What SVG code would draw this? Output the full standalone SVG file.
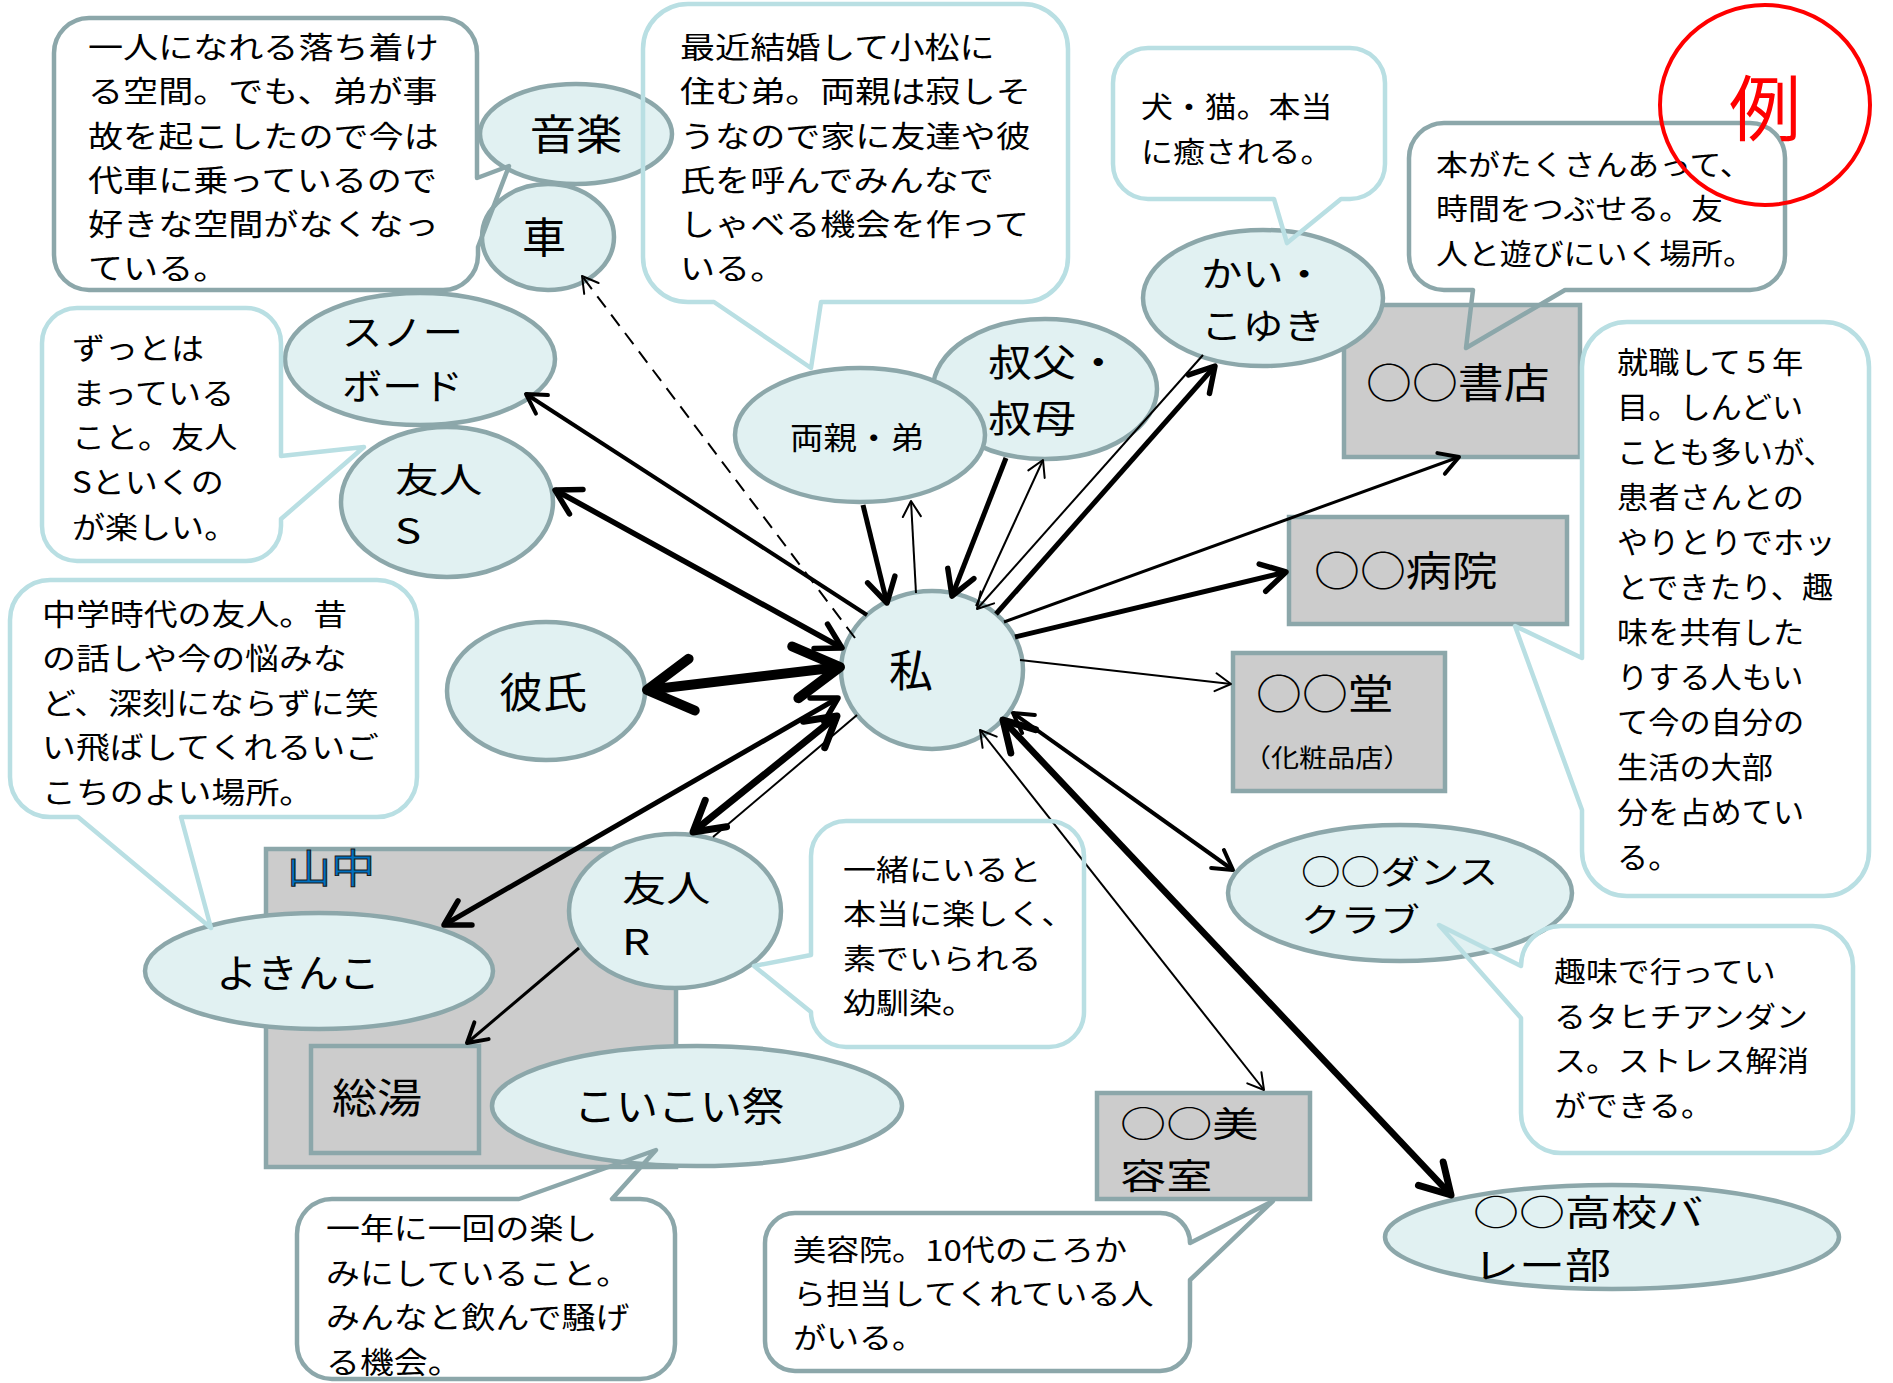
<svg xmlns="http://www.w3.org/2000/svg" width="1893" height="1383" viewBox="0 0 1893 1383">
<style>
.t{font-family:"Noto Sans CJK JP","Noto Sans",sans-serif;fill:#000}
.n{fill:#E1F1F2;stroke:#8CA7AA;stroke-width:4.5}
.r{fill:#CCCCCC;stroke:#8CA7AA;stroke-width:4.5}
.cb{fill:none;stroke:#B9DFE3;stroke-width:4.5;stroke-linejoin:round}
.cg{fill:none;stroke:#8CA7AA;stroke-width:4.5;stroke-linejoin:round}
.c{fill:none;stroke:#000}
.ah{fill:none;stroke:#000;stroke-linecap:round;stroke-linejoin:round}
</style>
<defs>
<marker id="T" viewBox="-25 -15 30 30" markerWidth="30" markerHeight="30" refX="0" refY="0" markerUnits="userSpaceOnUse" orient="auto-start-reverse" style="overflow:visible"><path class="ah" stroke-width="2" d="M-15.6,-9 L0,0 L-15.6,9"/></marker>
<marker id="M" viewBox="-30 -20 40 40" markerWidth="40" markerHeight="40" refX="0" refY="0" markerUnits="userSpaceOnUse" orient="auto-start-reverse" style="overflow:visible"><path class="ah" stroke-width="4" d="M-19,-11 L0,0 L-19,11"/></marker>
<marker id="K" viewBox="-35 -22 45 44" markerWidth="45" markerHeight="44" refX="0" refY="0" markerUnits="userSpaceOnUse" orient="auto-start-reverse" style="overflow:visible"><path class="ah" stroke-width="5.5" d="M-24.2,-14 L0,0 L-24.2,14"/></marker>
<marker id="KK" viewBox="-40 -26 50 52" markerWidth="50" markerHeight="52" refX="0" refY="0" markerUnits="userSpaceOnUse" orient="auto-start-reverse" style="overflow:visible"><path class="ah" stroke-width="7" d="M-29.4,-17 L0,0 L-29.4,17"/></marker>
<marker id="X" viewBox="-60 -36 70 72" markerWidth="70" markerHeight="72" refX="0" refY="0" markerUnits="userSpaceOnUse" orient="auto-start-reverse" style="overflow:visible"><path class="ah" stroke-width="10" d="M-45,-26 L0,0 L-45,26"/></marker>
</defs>
<rect width="1893" height="1383" fill="#fff"/>

<g id="area-yamanaka">
<rect class="r" x="266" y="849" width="410" height="318"/>
<text transform="translate(287,883) scale(1.1,1)" font-size="40" fill="#0070C0" stroke="#1a1a1a" stroke-width="1" style="font-family:'Noto Sans CJK JP',sans-serif">山中</text>
</g>

<g id="node-ongaku"><ellipse class="n" cx="576" cy="134" rx="96" ry="50"/><text class="t" transform="translate(576,150) scale(1.1,1)" font-size="42" text-anchor="middle">音楽</text></g>
<g id="node-kuruma"><ellipse class="n" cx="548" cy="237" rx="66" ry="53"/><text class="t" transform="translate(544,253) scale(1.05,1)" font-size="42" text-anchor="middle">車</text></g>
<g id="node-snowboard"><ellipse class="n" cx="420" cy="359" rx="135" ry="66"/><text class="t" transform="translate(342,346) scale(1.12,1)" font-size="36"><tspan x="0" y="0">スノー</tspan><tspan x="0" y="54">ボード</tspan></text></g>
<g id="node-yujin-s"><ellipse class="n" cx="447" cy="502" rx="106" ry="75"/><text class="t" transform="translate(395,493) scale(1.25,1)" font-size="35"><tspan x="0" y="0">友人</tspan><tspan x="0" y="51">S</tspan></text></g>
<g id="node-kareshi"><ellipse class="n" cx="546" cy="691" rx="99" ry="69"/><text class="t" transform="translate(543,708) scale(1.05,1)" font-size="42" text-anchor="middle">彼氏</text></g>
<g id="node-watashi"><ellipse class="n" cx="932" cy="670" rx="91" ry="79"/><text class="t" x="911" y="687" font-size="44" text-anchor="middle">私</text></g>
<g id="node-oji"><ellipse class="n" cx="1045" cy="389" rx="112" ry="70"/><text class="t" transform="translate(988,376) scale(1.16,1)" font-size="38"><tspan x="0" y="0">叔父・</tspan><tspan x="0" y="56">叔母</tspan></text></g>
<g id="node-ryoshin"><ellipse class="n" cx="860" cy="435" rx="125" ry="67"/><text class="t" transform="translate(857,449) scale(1.08,1)" font-size="31" text-anchor="middle">両親・弟</text></g>
<g id="node-shoten"><rect class="r" x="1344" y="305" width="236" height="152"/><text class="t" transform="translate(1366,398) scale(1.12,1)" font-size="41">○○書店</text></g>
<g id="node-kai"><ellipse class="n" cx="1263" cy="298" rx="120" ry="68"/><text class="t" transform="translate(1201,287) scale(1.18,1)" font-size="35"><tspan x="0" y="0">かい・</tspan><tspan x="0" y="52">こゆき</tspan></text></g>
<g id="node-byoin"><rect class="r" x="1289" y="517" width="278" height="107"/><text class="t" transform="translate(1314,586) scale(1.12,1)" font-size="41">○○病院</text></g>
<g id="node-do"><rect class="r" x="1233" y="653" width="212" height="138"/><text class="t" transform="translate(1256,709) scale(1.12,1)" font-size="41">○○堂</text><text class="t" transform="translate(1243,767) scale(1.1,1)" font-size="25.5">（化粧品店）</text></g>
<g id="node-dance"><ellipse class="n" cx="1400" cy="893" rx="172" ry="68"/><text class="t" transform="translate(1301,884) scale(1.2,1)" font-size="33"><tspan x="0" y="0">○○ダンス</tspan><tspan x="0" y="48">クラブ</tspan></text></g>
<g id="node-biyoshitsu"><rect class="r" x="1097" y="1093" width="213" height="106"/><text class="t" transform="translate(1120,1137) scale(1.3,1)" font-size="35.5"><tspan x="0" y="0">○○美</tspan><tspan x="0" y="52">容室</tspan></text></g>
<g id="node-volley"><ellipse class="n" cx="1612" cy="1237" rx="227" ry="52"/><text class="t" transform="translate(1473,1226) scale(1.28,1)" font-size="36"><tspan x="0" y="0">○○高校バ</tspan><tspan x="0" y="53">レー部</tspan></text></g>
<g id="node-yokinko"><ellipse class="n" cx="319" cy="971" rx="174" ry="58"/><text class="t" transform="translate(298,987) scale(1.05,1)" font-size="39" text-anchor="middle">よきんこ</text></g>
<g id="node-soyu"><rect class="r" x="311" y="1046" width="168" height="107"/><text class="t" transform="translate(332,1113) scale(1.1,1)" font-size="41">総湯</text></g>
<g id="node-koikoi"><ellipse class="n" cx="697" cy="1106" rx="205" ry="60"/><text class="t" transform="translate(679,1121) scale(1.05,1)" font-size="40" text-anchor="middle">こいこい祭</text></g>
<g id="node-yujin-r"><ellipse class="n" cx="675" cy="911" rx="106" ry="77"/><text class="t" transform="translate(622,902) scale(1.23,1)" font-size="36"><tspan x="0" y="0">友人</tspan><tspan x="0" y="53">R</tspan></text></g>

<g id="connectors">
<line class="c" x1="855" y1="638" x2="582" y2="276" stroke-width="2" stroke-dasharray="14 9" marker-end="url(#T)"/>
<line class="c" x1="867" y1="615" x2="526" y2="394" stroke-width="4" marker-end="url(#M)"/>
<line class="c" x1="842" y1="648" x2="555" y2="490" stroke-width="5.5" marker-start="url(#K)" marker-end="url(#K)"/>
<line class="c" x1="840" y1="667" x2="647" y2="690" stroke-width="10" marker-start="url(#X)" marker-end="url(#X)"/>
<line class="c" x1="838" y1="698" x2="444" y2="925" stroke-width="5" marker-start="url(#K)" marker-end="url(#K)"/>
<line class="c" x1="837" y1="716" x2="693" y2="832" stroke-width="7" marker-start="url(#KK)" marker-end="url(#KK)"/>
<line class="c" x1="857" y1="715" x2="713" y2="837" stroke-width="2"/>
<line class="c" x1="863" y1="505" x2="887" y2="603" stroke-width="5" marker-end="url(#K)"/>
<line class="c" x1="916" y1="593" x2="911" y2="501" stroke-width="2" marker-end="url(#T)"/>
<line class="c" x1="1006" y1="458" x2="952" y2="596" stroke-width="5" marker-end="url(#K)"/>
<line class="c" x1="976" y1="606" x2="1043" y2="460" stroke-width="2" marker-end="url(#T)"/>
<line class="c" x1="996" y1="614" x2="1215" y2="366" stroke-width="5" marker-end="url(#K)"/>
<line class="c" x1="1203" y1="355" x2="977" y2="609" stroke-width="2" marker-end="url(#T)"/>
<line class="c" x1="1004" y1="622" x2="1459" y2="457" stroke-width="3" marker-end="url(#M)"/>
<line class="c" x1="1015" y1="637" x2="1286" y2="572" stroke-width="5" marker-end="url(#K)"/>
<line class="c" x1="1020" y1="660" x2="1231" y2="684" stroke-width="2" marker-end="url(#T)"/>
<line class="c" x1="1013" y1="713" x2="1233" y2="870" stroke-width="4" marker-start="url(#M)" marker-end="url(#M)"/>
<line class="c" x1="1003" y1="720" x2="1451" y2="1195" stroke-width="6.5" marker-start="url(#KK)" marker-end="url(#KK)"/>
<line class="c" x1="980" y1="730" x2="1264" y2="1090" stroke-width="2" marker-start="url(#T)" marker-end="url(#T)"/>
<line class="c" x1="579" y1="948" x2="467" y2="1043" stroke-width="3" marker-end="url(#M)"/>
</g>

<g id="callout-ongaku">
<path class="cg" d="M89,18 H442 A35,35 0 0 1 477,53 V178 L509,166 L478,247 V255 A35,35 0 0 1 442,290 H89 A35,35 0 0 1 54,255 V53 A35,35 0 0 1 89,18 Z"/>
<text class="t" font-size="30" transform="translate(88,58) scale(1.17,1)"><tspan x="0" y="0">一人になれる落ち着け</tspan><tspan x="0" y="44.3">る空間。でも、弟が事</tspan><tspan x="0" y="88.6">故を起こしたので今は</tspan><tspan x="0" y="132.9">代車に乗っているので</tspan><tspan x="0" y="177.2">好きな空間がなくなっ</tspan><tspan x="0" y="221.5">ている。</tspan></text>
</g>
<g id="callout-ryoshin">
<path class="cb" d="M688,4 H1023 A45,45 0 0 1 1068,49 V257 A45,45 0 0 1 1023,302 H821 L811,368 L714,302 H688 A45,45 0 0 1 643,257 V49 A45,45 0 0 1 688,4 Z"/>
<text class="t" font-size="30" transform="translate(680,58) scale(1.17,1)"><tspan x="0" y="0">最近結婚して小松に</tspan><tspan x="0" y="44.3">住む弟。両親は寂しそ</tspan><tspan x="0" y="88.6">うなので家に友達や彼</tspan><tspan x="0" y="132.9">氏を呼んでみんなで</tspan><tspan x="0" y="177.2">しゃべる機会を作って</tspan><tspan x="0" y="221.5">いる。</tspan></text>
</g>
<g id="callout-kai">
<path class="cb" d="M1148,48 H1350 A35,35 0 0 1 1385,83 V164 A35,35 0 0 1 1350,199 H1341 L1287,243 L1274,199 H1148 A35,35 0 0 1 1113,164 V83 A35,35 0 0 1 1148,48 Z"/>
<text class="t" font-size="29" transform="translate(1141,118) scale(1.1,1)"><tspan x="0" y="0">犬・猫。本当</tspan><tspan x="0" y="45">に癒される。</tspan></text>
</g>
<g id="callout-shoten">
<path class="cg" d="M1444,123 H1750 A35,35 0 0 1 1785,158 V255 A35,35 0 0 1 1750,290 H1565 L1466,348 L1473,290 H1444 A35,35 0 0 1 1409,255 V158 A35,35 0 0 1 1444,123 Z"/>
<text class="t" font-size="29" transform="translate(1436,176) scale(1.1,1)"><tspan x="0" y="0">本がたくさんあって、</tspan><tspan x="0" y="44.5">時間をつぶせる。友</tspan><tspan x="0" y="89">人と遊びにいく場所。</tspan></text>
</g>
<g id="callout-byoin">
<path class="cb" d="M1627,322 H1824 A45,45 0 0 1 1869,367 V851 A45,45 0 0 1 1824,896 H1627 A45,45 0 0 1 1582,851 V810 L1515,626 L1582,658 V367 A45,45 0 0 1 1627,322 Z"/>
<text class="t" font-size="30" transform="translate(1617,373) scale(1.04,1)"><tspan x="0" y="0">就職して５年</tspan><tspan x="0" y="45">目。しんどい</tspan><tspan x="0" y="90">ことも多いが、</tspan><tspan x="0" y="135">患者さんとの</tspan><tspan x="0" y="180">やりとりでホッ</tspan><tspan x="0" y="225">とできたり、趣</tspan><tspan x="0" y="270">味を共有した</tspan><tspan x="0" y="315">りする人もい</tspan><tspan x="0" y="360">て今の自分の</tspan><tspan x="0" y="405">生活の大部</tspan><tspan x="0" y="450">分を占めてい</tspan><tspan x="0" y="495">る。</tspan></text>
</g>
<g id="callout-dance">
<path class="cb" d="M1561,926 H1813 A40,40 0 0 1 1853,966 V1113 A40,40 0 0 1 1813,1153 H1561 A40,40 0 0 1 1521,1113 V1018 L1439,925 L1521,966 A40,40 0 0 1 1561,926 Z"/>
<text class="t" font-size="29" transform="translate(1554,983) scale(1.1,1)"><tspan x="0" y="0">趣味で行ってい</tspan><tspan x="0" y="44.7">るタヒチアンダン</tspan><tspan x="0" y="89.4">ス。ストレス解消</tspan><tspan x="0" y="134">ができる。</tspan></text>
</g>
<g id="callout-biyoshitsu">
<path class="cg" d="M795,1213 H1160 A30,30 0 0 1 1190,1243 L1273,1201 L1190,1280 V1341 A30,30 0 0 1 1160,1371 H795 A30,30 0 0 1 765,1341 V1243 A30,30 0 0 1 795,1213 Z"/>
<text class="t" font-size="29" transform="translate(793,1261) scale(1.14,1)"><tspan x="0" y="0">美容院。10代のころか</tspan><tspan x="0" y="44">ら担当してくれている人</tspan><tspan x="0" y="88">がいる。</tspan></text>
</g>
<g id="callout-yujin-r">
<path class="cb" d="M846,821 H1049 A35,35 0 0 1 1084,856 V1012 A35,35 0 0 1 1049,1047 H846 A35,35 0 0 1 811,1012 L754,966 L811,955 V856 A35,35 0 0 1 846,821 Z"/>
<text class="t" font-size="29" transform="translate(843,881) scale(1.14,1)"><tspan x="0" y="0">一緒にいると</tspan><tspan x="0" y="44.5">本当に楽しく、</tspan><tspan x="0" y="89">素でいられる</tspan><tspan x="0" y="133">幼馴染。</tspan></text>
</g>
<g id="callout-koikoi">
<path class="cg" d="M332,1199 H519 L656,1150 L612,1199 H640 A35,35 0 0 1 675,1234 V1344 A35,35 0 0 1 640,1379 H332 A35,35 0 0 1 297,1344 V1234 A35,35 0 0 1 332,1199 Z"/>
<text class="t" font-size="29.5" transform="translate(326,1239) scale(1.15,1)"><tspan x="0" y="0">一年に一回の楽し</tspan><tspan x="0" y="44.7">みにしていること。</tspan><tspan x="0" y="89.4">みんなと飲んで騒げ</tspan><tspan x="0" y="134">る機会。</tspan></text>
</g>
<g id="callout-snowboard">
<path class="cb" d="M77,308 H246 A35,35 0 0 1 281,343 V456 L364,447 L281,519 V526 A35,35 0 0 1 246,561 H77 A35,35 0 0 1 42,526 V343 A35,35 0 0 1 77,308 Z"/>
<text class="t" font-size="29.5" transform="translate(72,359) scale(1.12,1)"><tspan x="0" y="0">ずっとは</tspan><tspan x="0" y="44.7">まっている</tspan><tspan x="0" y="89.4">こと。友人</tspan><tspan x="0" y="134">Sといくの</tspan><tspan x="0" y="178.8">が楽しい。</tspan></text>
</g>
<g id="callout-yokinko">
<path class="cb" d="M50,580 H377 A40,40 0 0 1 417,620 V777 A40,40 0 0 1 377,817 H181 L211,928 L78,817 H50 A40,40 0 0 1 10,777 V620 A40,40 0 0 1 50,580 Z"/>
<text class="t" font-size="29.5" transform="translate(42,625) scale(1.15,1)"><tspan x="0" y="0">中学時代の友人。昔</tspan><tspan x="0" y="44.5">の話しや今の悩みな</tspan><tspan x="0" y="89">ど、深刻にならずに笑</tspan><tspan x="0" y="133.5">い飛ばしてくれるいご</tspan><tspan x="0" y="178">こちのよい場所。</tspan></text>
</g>

<g id="label-rei">
<ellipse cx="1765" cy="105" rx="105" ry="100" fill="none" stroke="#FF0000" stroke-width="4"/>
<text x="1765" y="135" font-size="72" text-anchor="middle" fill="#FF0000" style="font-family:'Noto Sans CJK JP',sans-serif">例</text>
</g>
</svg>
